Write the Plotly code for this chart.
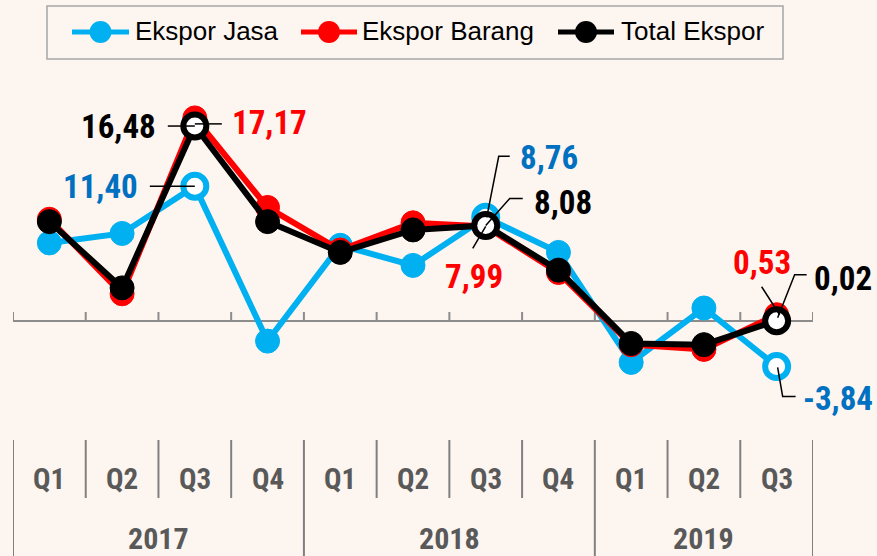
import plotly.graph_objects as go

# ---------------- data ----------------
quarters = ["Q1", "Q2", "Q3", "Q4", "Q1", "Q2", "Q3", "Q4", "Q1", "Q2", "Q3"]
years = ["2017", "2018", "2019"]
year_counts = [4, 4, 3]

ekspor_jasa = [6.6, 7.4, 11.40, -1.7, 6.4, 4.7, 8.76, 5.8, -3.5, 1.1, -3.84]
ekspor_barang = [8.6, 2.3, 17.17, 9.6, 6.0, 8.3, 7.99, 4.1, -2.0, -2.4, 0.53]
total_ekspor = [8.4, 2.8, 16.48, 8.4, 5.8, 7.7, 8.08, 4.3, -1.9, -2.0, 0.02]

series_names = ["Ekspor Jasa", "Ekspor Barang", "Total Ekspor"]

# ---------------- style ----------------
W, H = 877, 556
ML, MR, MT, MB = 13, 64, 70, 136
PW, PH = W - ML - MR, H - MT - MB
BG = "#FDF5F0"
C_JASA, C_BARANG, C_TOTAL = "#00B0F0", "#FF0000", "#000000"
C_JASA_TXT = "#0070C0"
NARROW = ("Liberation Sans Narrow, Arial Narrow, Roboto Condensed, Noto Sans Condensed, "
          "Open Sans Condensed, Liberation Sans, sans-serif")
REG = "Liberation Sans, Arial, sans-serif"
GREY_TXT = "#595959"
GREY_LINE = "#8C8C8C"
LABEL_SIZE = 33

x = list(range(len(quarters)))
hl = [q == "Q3" for q in quarters]


def px2x(p):
    return (p - ML) / PW


def px2y(p):
    return (H - MB - p) / PH


def marker(color, hollow_flags):
    return dict(
        color=["white" if h else color for h in hollow_flags],
        size=[23 if h else 24 for h in hollow_flags],
        opacity=1,
        line=dict(color=color, width=[6 if h else 1 for h in hollow_flags]),
    )


fig = go.Figure()
fig.add_trace(go.Scatter(x=x, y=ekspor_jasa, name=series_names[0], mode="lines+markers",
                         line=dict(color=C_JASA, width=6), marker=marker(C_JASA, hl),
                         cliponaxis=False))
fig.add_trace(go.Scatter(x=x, y=ekspor_barang, name=series_names[1], mode="lines+markers",
                         line=dict(color=C_BARANG, width=6), marker=marker(C_BARANG, [False] * len(x)),
                         cliponaxis=False))
fig.add_trace(go.Scatter(x=x, y=total_ekspor, name=series_names[2], mode="lines+markers",
                         line=dict(color=C_TOTAL, width=6), marker=marker(C_TOTAL, hl),
                         cliponaxis=False))

shapes = []
annotations = []

# axis line at zero with upward ticks at category boundaries
n = len(x)
shapes.append(dict(type="line", xref="x", yref="y", x0=-0.5, x1=n - 0.5, y0=0, y1=0,
                   line=dict(color=GREY_LINE, width=2), layer="below"))
for b in range(n + 1):
    shapes.append(dict(type="line", xref="x", yref="y", ysizemode="pixel", yanchor=0,
                       x0=b - 0.5, x1=b - 0.5, y0=0, y1=9,
                       line=dict(color=GREY_LINE, width=2), layer="below"))

# category table below the chart
year_bounds = [-0.5]
for c in year_counts:
    year_bounds.append(year_bounds[-1] + c)
for b in range(n + 1):
    xb = b - 0.5
    bottom = 556 if xb in year_bounds else 498
    shapes.append(dict(type="line", xref="x", yref="paper", x0=xb, x1=xb,
                       y0=px2y(440), y1=px2y(bottom), line=dict(color="#808080", width=2)))
for i, q in enumerate(quarters):
    annotations.append(dict(x=i, y=px2y(479), xref="x", yref="paper", text=q, showarrow=False,
                            font=dict(family=NARROW, size=29, color=GREY_TXT, weight="bold"),
                            xanchor="center", yanchor="middle"))
for k, yr in enumerate(years):
    xc = (year_bounds[k] + year_bounds[k + 1]) / 2
    annotations.append(dict(x=xc, y=px2y(538), xref="x", yref="paper", text=yr, showarrow=False,
                            font=dict(family=NARROW, size=30, color=GREY_TXT, weight="bold"),
                            xanchor="center", yanchor="middle"))


def fmt(v):
    return f"{v:.2f}".replace(".", ",")


def label(i, vals, color, xanchor, xshift, yshift):
    annotations.append(dict(x=i, y=vals[i], xref="x", yref="y", text=fmt(vals[i]), showarrow=False,
                            xanchor=xanchor, yanchor="middle", xshift=xshift, yshift=yshift,
                            font=dict(family=NARROW, size=LABEL_SIZE, color=color, weight="bold")))


def leader(i, vals, pts):
    path = "M " + " L ".join(f"{a},{b}" for a, b in pts)
    shapes.append(dict(type="path", xref="x", yref="y", xsizemode="pixel", ysizemode="pixel",
                       xanchor=i, yanchor=vals[i], path=path,
                       line=dict(color="black", width=1.5), layer="above"))


q3 = [i for i, h in enumerate(hl) if h]
a, b, c = q3

# 2017 Q3
label(a, total_ekspor, C_TOTAL, "right", -37, 0)
leader(a, total_ekspor, [(-27, 0), (0, 0)])
label(a, ekspor_barang, C_BARANG, "left", 35, -5)
leader(a, ekspor_barang, [(0, -6), (27, -6)])
label(a, ekspor_jasa, C_JASA_TXT, "right", -55, 0)
leader(a, ekspor_jasa, [(-45, 0), (0, 0)])

# 2018 Q3
label(b, ekspor_jasa, C_JASA_TXT, "left", 32, 60)
leader(b, ekspor_jasa, [(24, 61), (13, 61), (1, 0)])
label(b, total_ekspor, C_TOTAL, "left", 46, 23)
leader(b, total_ekspor, [(37, 27), (24, 27), (0, 0)])
label(b, ekspor_barang, C_BARANG, "center", -12, -50)
leader(b, ekspor_barang, [(0, 0), (-13, -22)])

# 2019 Q3
label(c, ekspor_barang, C_BARANG, "center", -15, 52)
leader(c, ekspor_barang, [(-15, 28), (3, 0)])
label(c, total_ekspor, C_TOTAL, "left", 35, 42)
leader(c, total_ekspor, [(30, 46), (18, 46), (1, 3)])
label(c, ekspor_jasa, C_JASA_TXT, "left", 24, -32)
leader(c, ekspor_jasa, [(1, -1), (6, -30), (19, -30)])

# manual legend
shapes.append(dict(type="rect", xref="paper", yref="paper", x0=px2x(47), x1=px2x(783),
                   y0=px2y(59), y1=px2y(6), line=dict(color="#A6A6A6", width=1.5), fillcolor=BG,
                   layer="below"))
legend_items = [(series_names[0], C_JASA, 72, 129, 133),
                (series_names[1], C_BARANG, 301, 357, 360),
                (series_names[2], C_TOTAL, 558, 614, 619)]
for name, col, l0, l1, tx in legend_items:
    yc = px2y(32)
    shapes.append(dict(type="line", xref="paper", yref="paper", x0=px2x(l0), x1=px2x(l1),
                       y0=yc, y1=yc, line=dict(color=col, width=5)))
    cx = (l0 + l1) / 2
    shapes.append(dict(type="circle", xref="paper", yref="paper", x0=px2x(cx - 11), x1=px2x(cx + 11),
                       y0=px2y(32 + 11), y1=px2y(32 - 11), fillcolor=col, line=dict(color=col, width=0)))
    annotations.append(dict(x=px2x(tx), y=px2y(31), xref="paper", yref="paper", text=name,
                            showarrow=False, xanchor="left", yanchor="middle",
                            font=dict(family=REG, size=26, color="black")))

fig.update_layout(
    width=W, height=H,
    margin=dict(l=ML, r=MR, t=MT, b=MB, pad=0),
    paper_bgcolor=BG, plot_bgcolor=BG,
    showlegend=False,
    shapes=shapes, annotations=annotations,
    xaxis=dict(range=[-0.5, n - 0.5], visible=False, fixedrange=True),
    yaxis=dict(range=[-(H - MB - 321) / 11.83, (321 - MT) / 11.83], visible=False, fixedrange=True),
)

fig.write_html("out.html", config={"displayModeBar": False},
               post_script="document.body.style.margin='0';document.body.style.overflow='hidden';"
                           "document.body.style.background='" + BG + "';")
